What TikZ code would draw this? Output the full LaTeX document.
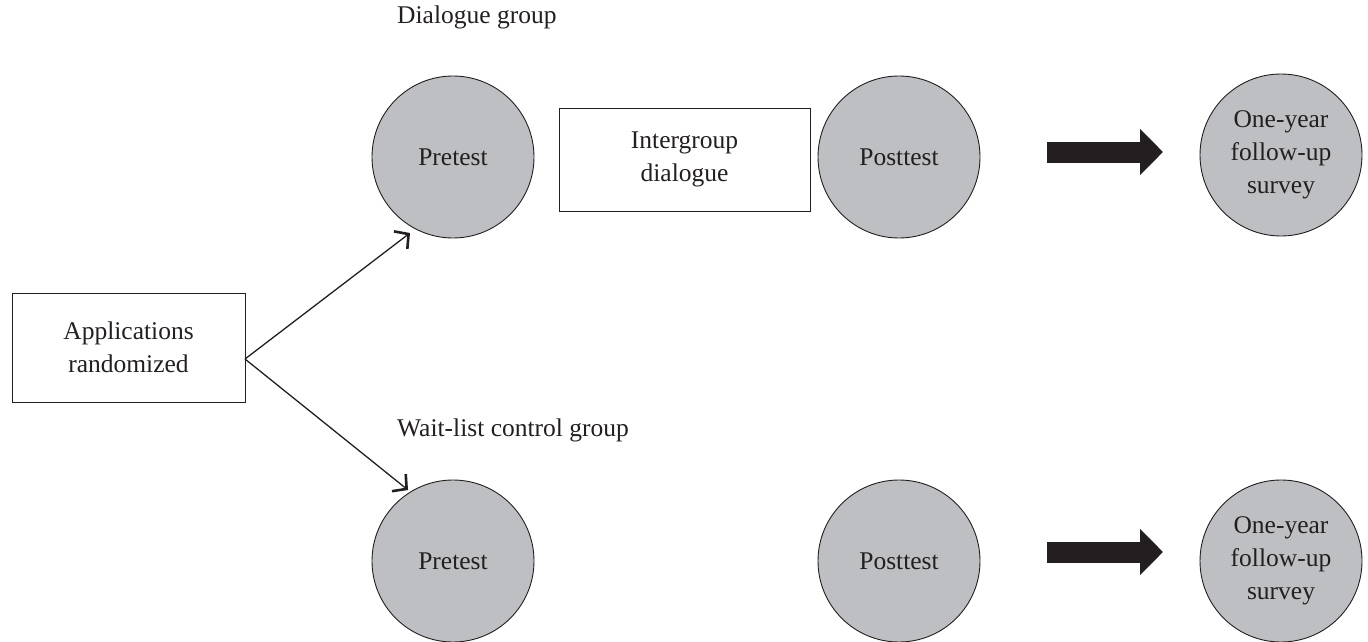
\documentclass[tikz,border=0pt]{standalone}
\usepackage{fontspec}
\setmainfont{Liberation Serif}
\usepackage{tikz}
\usetikzlibrary{arrows.meta}
\definecolor{circgray}{RGB}{190,191,195}
\definecolor{inkblack}{RGB}{35,31,32}

\begin{document}
\begin{tikzpicture}[x=1pt,y=-1pt,
  every node/.style={font=\fontsize{25.5}{33}\selectfont,align=center,text=inkblack},
  stage/.style={circle,draw=inkblack,line width=0.9pt,fill=circgray,minimum size=162pt,inner sep=0pt},
  boxed/.style={rectangle,draw=inkblack,line width=0.9pt,inner sep=0pt},
  grouplabel/.style={anchor=west,inner sep=0pt},
  split/.style={-{Straight Barb[length=10pt,width=22pt,line width=2.6pt]},line width=1.3pt,draw=inkblack},
  fat/.style={-{Triangle[length=23pt,width=45pt]},line width=21pt,draw=inkblack}]
\useasboundingbox (0,0) rectangle (1368,642);
\node[boxed,minimum width=233pt,minimum height=109pt] (apps) at (128.5,347.5) {Applications\\randomized};
\coordinate (fork) at (245,359);
% dialogue group
\node[grouplabel] (dlab) at (397,17) {Dialogue group};
\node[stage] (pre1) at (453,157) {Pretest};
\node[boxed,minimum width=251pt,minimum height=103pt] (igd) at (684.5,159.5) {Intergroup\\dialogue};
\node[stage] (post1) at (899,157) {Posttest};
\node[stage] (fup1) at (1281,155) {One-year\\follow-up\\survey};
\coordinate (a1s) at (1047,152);
\coordinate (a1e) at (1163,152);
% wait-list control group
\node[grouplabel] (wlab) at (397,430) {Wait-list control group};
\node[stage] (pre2) at (453,561) {Pretest};
\node[stage] (post2) at (899,561) {Posttest};
\node[stage] (fup2) at (1281,561) {One-year\\follow-up\\survey};
\coordinate (a2s) at (1047,552);
\coordinate (a2e) at (1163,552);
\coordinate (t1) at (410,233);
\coordinate (t2) at (408,490);
\draw[split] (fork) -- (t1);
\draw[split] (fork) -- (t2);
\draw[fat] (a1s) -- (a1e);
\draw[fat] (a2s) -- (a2e);
\end{tikzpicture}
\end{document}
